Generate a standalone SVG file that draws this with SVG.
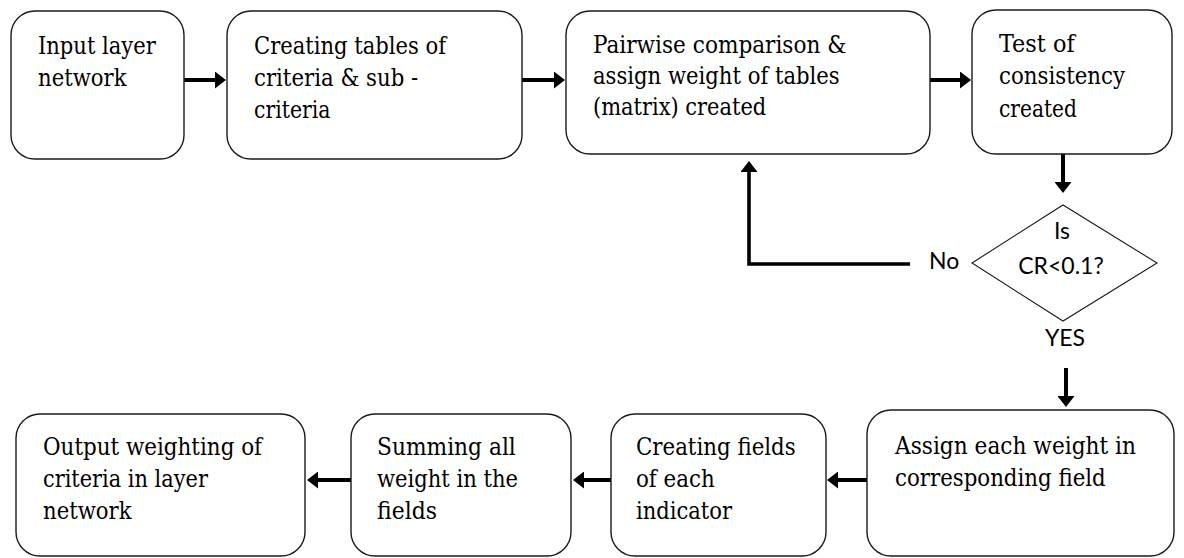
<svg xmlns="http://www.w3.org/2000/svg" width="1184" height="558" viewBox="0 0 1184 558">
<style>
.box{fill:#fff;stroke:#1a1a1a;stroke-width:1.4}
.dia{fill:#fff;stroke:#1a1a1a;stroke-width:1.1}
.t{font-family:'DejaVu Serif','Liberation Serif',serif;font-stretch:condensed;font-size:24.5px;fill:#000}
.s{font-family:Lato,'Liberation Sans',sans-serif;font-size:23px;fill:#000}
.c{fill:none;stroke:#000;stroke-width:4}
</style>
<defs>
<marker id="ah" markerUnits="userSpaceOnUse" markerWidth="11" markerHeight="17" refX="2" refY="8.5" orient="auto">
<path d="M0,0 L11,8.5 L0,17 z" fill="#000"/>
</marker>
</defs>
<rect width="1184" height="558" fill="#fff"/>
<g id="connectors">
<line class="c" x1="184" y1="80" x2="217" y2="80" marker-end="url(#ah)"/>
<line class="c" x1="522" y1="80" x2="556" y2="80" marker-end="url(#ah)"/>
<line class="c" x1="930" y1="80" x2="962" y2="80" marker-end="url(#ah)"/>
<line class="c" x1="1063" y1="154" x2="1063" y2="184" marker-end="url(#ah)"/>
<polyline class="c" points="910,264 749,264 749,170" marker-end="url(#ah)" style="stroke-width:3.6"/>
<line class="c" x1="1066" y1="368" x2="1066" y2="398" marker-end="url(#ah)"/>
<line class="c" x1="867" y1="480" x2="836" y2="480" marker-end="url(#ah)"/>
<line class="c" x1="611" y1="480" x2="582" y2="480" marker-end="url(#ah)"/>
<line class="c" x1="351" y1="480" x2="316" y2="480" marker-end="url(#ah)"/>
</g>
<g id="n1"><rect class="box" x="11" y="11" width="173" height="148" rx="24"/>
<text class="t" x="38" y="54" textLength="117.7" lengthAdjust="spacingAndGlyphs">Input layer</text>
<text class="t" x="38" y="86" textLength="88.5" lengthAdjust="spacingAndGlyphs">network</text></g>
<g id="n2"><rect class="box" x="227" y="11" width="295" height="148" rx="24"/>
<text class="t" x="254" y="54" textLength="192" lengthAdjust="spacingAndGlyphs">Creating tables of</text>
<text class="t" x="254" y="86" textLength="164.2" lengthAdjust="spacingAndGlyphs">criteria &amp; sub -</text>
<text class="t" x="254" y="118" textLength="76.5" lengthAdjust="spacingAndGlyphs">criteria</text></g>
<g id="n3"><rect class="box" x="566" y="11" width="364" height="143" rx="24"/>
<text class="t" x="593" y="53" textLength="253.5" lengthAdjust="spacingAndGlyphs">Pairwise comparison &amp;</text>
<text class="t" x="593" y="84" textLength="246.7" lengthAdjust="spacingAndGlyphs">assign weight of tables</text>
<text class="t" x="593" y="115" textLength="173.2" lengthAdjust="spacingAndGlyphs">(matrix) created</text></g>
<g id="n4"><rect class="box" x="972" y="10" width="200" height="144" rx="24"/>
<text class="t" x="999" y="52" textLength="75.7" lengthAdjust="spacingAndGlyphs">Test of</text>
<text class="t" x="999" y="84" textLength="126" lengthAdjust="spacingAndGlyphs">consistency</text>
<text class="t" x="999" y="117" textLength="77.9" lengthAdjust="spacingAndGlyphs">created</text></g>
<g id="n5"><polygon class="dia" points="972,263 1063,205 1157,263 1063,321"/>
<text class="s" x="1062" y="239" text-anchor="middle">Is</text><text class="s" x="1061" y="274" text-anchor="middle">CR&lt;0.1?</text></g>
<g id="lbl-no"><text class="s" x="929" y="269">No</text></g>
<g id="lbl-yes"><text class="s" x="1065" y="346" text-anchor="middle">YES</text></g>
<g id="n6"><rect class="box" x="867" y="410" width="307" height="146" rx="24"/>
<text class="t" x="895" y="454" textLength="241" lengthAdjust="spacingAndGlyphs">Assign each weight in</text>
<text class="t" x="895" y="486" textLength="210.7" lengthAdjust="spacingAndGlyphs">corresponding field</text></g>
<g id="n7"><rect class="box" x="611" y="414" width="215" height="142" rx="24"/>
<text class="t" x="636" y="455" textLength="159.7" lengthAdjust="spacingAndGlyphs">Creating fields</text>
<text class="t" x="636" y="487" textLength="78.7" lengthAdjust="spacingAndGlyphs">of each</text>
<text class="t" x="636" y="519" textLength="96" lengthAdjust="spacingAndGlyphs">indicator</text></g>
<g id="n8"><rect class="box" x="351" y="414" width="220" height="142" rx="24"/>
<text class="t" x="377" y="455" textLength="138.8" lengthAdjust="spacingAndGlyphs">Summing all</text>
<text class="t" x="377" y="487" textLength="141" lengthAdjust="spacingAndGlyphs">weight in the</text>
<text class="t" x="377" y="519" textLength="60" lengthAdjust="spacingAndGlyphs">fields</text></g>
<g id="n9"><rect class="box" x="16" y="414" width="289" height="142" rx="24"/>
<text class="t" x="43" y="455" textLength="219" lengthAdjust="spacingAndGlyphs">Output weighting of</text>
<text class="t" x="43" y="487" textLength="164.9" lengthAdjust="spacingAndGlyphs">criteria in layer</text>
<text class="t" x="43" y="519" textLength="88.5" lengthAdjust="spacingAndGlyphs">network</text></g>
</svg>
